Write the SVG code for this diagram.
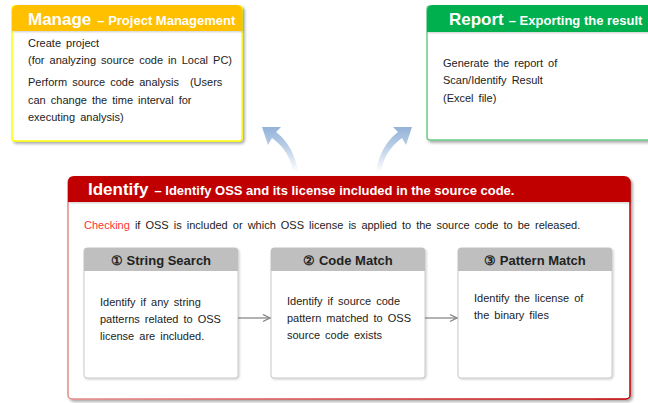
<svg xmlns="http://www.w3.org/2000/svg" width="648" height="403" viewBox="0 0 648 403">
<defs>
  <filter id="sh" x="-10%" y="-10%" width="120%" height="130%">
    <feDropShadow dx="2" dy="2" stdDeviation="1.5" flood-color="#000" flood-opacity="0.35"/>
  </filter>
  <filter id="shs" x="-10%" y="-10%" width="120%" height="130%">
    <feDropShadow dx="1" dy="1" stdDeviation="1" flood-color="#000" flood-opacity="0.2"/>
  </filter>
  <linearGradient id="arrL" gradientUnits="userSpaceOnUse" x1="0" y1="125" x2="0" y2="172">
    <stop offset="0" stop-color="#8FB0D8"/>
    <stop offset="0.45" stop-color="#B9CDE6"/>
    <stop offset="1" stop-color="#FFFFFF"/>
  </linearGradient>
  <linearGradient id="idBorder" x1="0" y1="0" x2="1" y2="0">
    <stop offset="0" stop-color="#E58A8A"/>
    <stop offset="1" stop-color="#C00000"/>
  </linearGradient>
  <marker id="open" markerWidth="10" markerHeight="10" refX="8" refY="4" orient="auto" markerUnits="userSpaceOnUse">
    <path d="M1,0.5 L8,4 L1,7.5" fill="none" stroke="#7F7F7F" stroke-width="1.2"/>
  </marker>
  <style>
    .hdrBig { font-family: "Liberation Sans", Arial, sans-serif; font-weight: bold; font-size: 17px; fill: #fff; }
    .hdrSm { font-family: "Liberation Sans", Arial, sans-serif; font-weight: bold; font-size: 13px; fill: #fff; }
    .body { font-family: "Liberation Sans", Arial, sans-serif; font-size: 11px; fill: #222; word-spacing: 2px; }
    .sub { font-family: "Liberation Sans", Arial, sans-serif; font-weight: bold; font-size: 13px; fill: #222; }
    .subbox { fill: #fff; stroke: #C8C8C8; stroke-width: 1; }
    .subhdr { fill: #BFBFBF; }
    .conn { stroke: #7F7F7F; stroke-width: 1.2; fill: none; }
  </style>
</defs>

<!-- Manage -->
<g id="manage">
  <rect x="12" y="6" width="230" height="135" rx="3" fill="#fff" stroke="#FFFF00" stroke-width="1.5" filter="url(#sh)"/>
  <path d="M12,31 L12,11 Q12,5 18,5 L236,5 Q242,5 242,11 L242,31 Z" fill="#FFC000" filter="url(#shs)"/>
  <text x="28" y="25"><tspan class="hdrBig">Manage</tspan><tspan class="hdrSm" dx="6">– Project Management</tspan></text>
  <text class="body" x="28" y="47">Create project</text>
  <text class="body" x="28" y="64">(for analyzing source code in Local PC)</text>
  <text class="body" x="28" y="86">Perform source code analysis <tspan dx="6">(Users</tspan></text>
  <text class="body" x="28" y="104">can change the time interval for</text>
  <text class="body" x="28" y="121">executing analysis)</text>
</g>

<!-- Report -->
<g id="report">
  <rect x="427" y="6" width="230" height="134" rx="3" fill="#fff" stroke="#6CCB8A" stroke-width="1.5" filter="url(#sh)"/>
  <path d="M427,32 L427,11 Q427,5 433,5 L660,5 L660,32 Z" fill="#00B050" filter="url(#shs)"/>
  <text x="449" y="25"><tspan class="hdrBig">Report</tspan><tspan class="hdrSm" dx="5">– Exporting the result</tspan></text>
  <text class="body" x="443" y="67">Generate the report of</text>
  <text class="body" x="443" y="84">Scan/Identify Result</text>
  <text class="body" x="443" y="102">(Excel file)</text>
</g>

<!-- curved arrows -->
<g id="arrows-up">
  <path d="M262,127 L281,127 L276,132 Q294,146 298,172 L293,172 Q290,151 272,138 L268,145 Z" fill="url(#arrL)"/>
  <path d="M412,127 L393,127 L398,132 Q380,146 376,172 L381,172 Q384,151 402,138 L406,145 Z" fill="url(#arrL)"/>
</g>

<!-- Identify -->
<g id="identify">
  <rect x="68" y="178" width="562" height="221" rx="4" fill="#fff" stroke="url(#idBorder)" stroke-width="1.5" filter="url(#sh)"/>
  <path d="M68,202 L68,182 Q68,176 74,176 L624,176 Q630,176 630,182 L630,202 Z" fill="#C00000" filter="url(#shs)"/>
  <text x="88" y="195"><tspan class="hdrBig">Identify</tspan><tspan class="hdrSm" dx="6" textLength="360" lengthAdjust="spacingAndGlyphs">– Identify OSS and its license included in the source code.</tspan></text>
  <text class="body" x="84" y="229"><tspan fill="#FF3333">Checking</tspan> if OSS is included or which OSS license is applied to the source code to be released.</text>
</g>

<g id="string-search">
  <rect class="subbox" x="84" y="248" width="154" height="130" rx="3" filter="url(#shs)"/>
  <path class="subhdr" d="M84,271 L84,251 Q84,248 87,248 L235,248 Q238,248 238,251 L238,271 Z"/>
  <text class="sub" x="161" y="265" text-anchor="middle">① String Search</text>
  <text class="body" x="100" y="306">Identify if any string</text>
  <text class="body" x="100" y="323">patterns related to OSS</text>
  <text class="body" x="100" y="340">license are included.</text>
</g>

<g id="code-match">
  <rect class="subbox" x="271" y="248" width="154" height="130" rx="3" filter="url(#shs)"/>
  <path class="subhdr" d="M271,271 L271,251 Q271,248 274,248 L422,248 Q425,248 425,251 L425,271 Z"/>
  <text class="sub" x="348" y="265" text-anchor="middle">② Code Match</text>
  <text class="body" x="287" y="305">Identify if source code</text>
  <text class="body" x="287" y="322">pattern matched to OSS</text>
  <text class="body" x="287" y="339">source code exists</text>
</g>

<g id="pattern-match">
  <rect class="subbox" x="458" y="248" width="154" height="130" rx="3" filter="url(#shs)"/>
  <path class="subhdr" d="M458,271 L458,251 Q458,248 461,248 L609,248 Q612,248 612,251 L612,271 Z"/>
  <text class="sub" x="535" y="265" text-anchor="middle">③ Pattern Match</text>
  <text class="body" x="474" y="302">Identify the license of</text>
  <text class="body" x="474" y="319">the binary files</text>
</g>

<g id="connectors">
  <line class="conn" x1="238" y1="318" x2="270" y2="318" marker-end="url(#open)"/>
  <line class="conn" x1="425" y1="318" x2="457" y2="318" marker-end="url(#open)"/>
</g>
</svg>
